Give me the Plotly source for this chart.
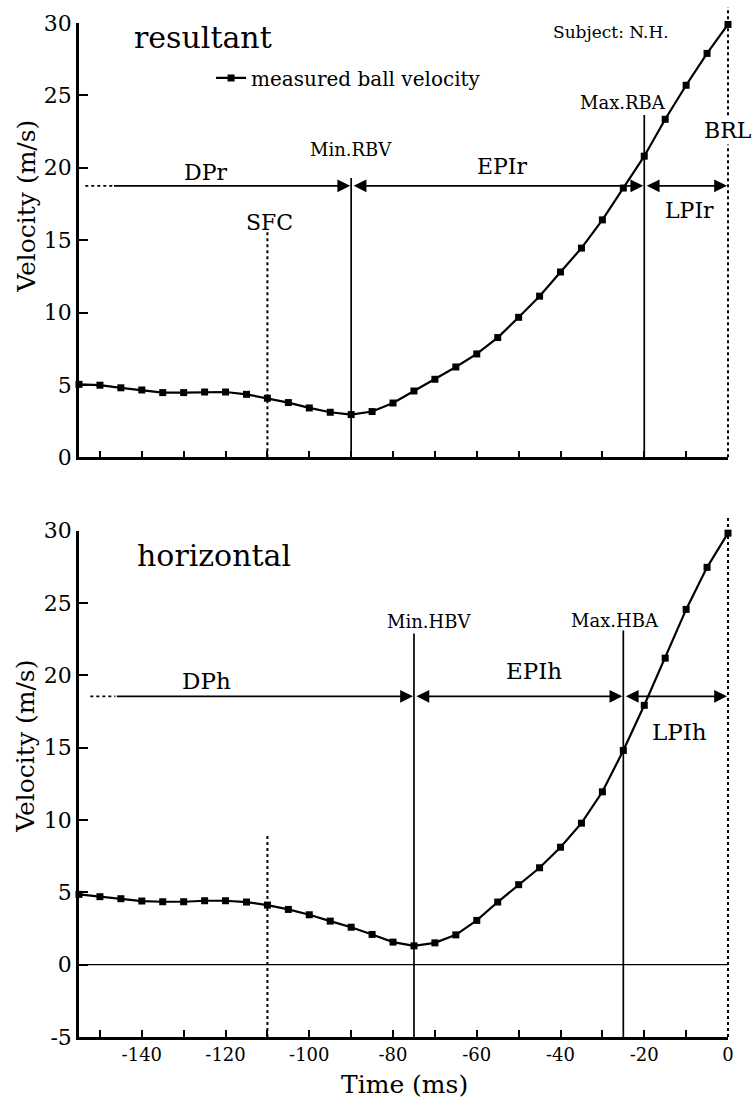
import plotly.graph_objects as go

# ---------------- data ----------------
time_ms = [-155, -150, -145, -140, -135, -130, -125, -120, -115, -110, -105, -100,
           -95, -90, -85, -80, -75, -70, -65, -60, -55, -50, -45, -40, -35, -30,
           -25, -20, -15, -10, -5, 0]
resultant_v = [5.04, 4.98, 4.80, 4.65, 4.47, 4.47, 4.51, 4.51, 4.35, 4.08, 3.78, 3.41,
               3.11, 2.95, 3.16, 3.75, 4.58, 5.39, 6.24, 7.14, 8.27, 9.67, 11.13, 12.80,
               14.45, 16.40, 18.60, 20.80, 23.35, 25.70, 27.90, 29.90]
horizontal_v = [4.86, 4.70, 4.56, 4.40, 4.35, 4.35, 4.42, 4.42, 4.33, 4.12, 3.82, 3.45,
                3.01, 2.59, 2.09, 1.56, 1.30, 1.51, 2.06, 3.06, 4.33, 5.53, 6.70, 8.12,
                9.78, 11.95, 14.81, 17.93, 21.19, 24.56, 27.47, 29.83]

# event times (ms)
t_sfc = -110
t_min_rbv = -90
t_max_rba = -20
t_min_hbv = -75
t_max_hba = -25
t_brl = 0

x_tickvals = [-150, -140, -130, -120, -110, -100, -90, -80, -70, -60, -50, -40, -30, -20, -10, 0]
x_ticktext = ["", "-140", "", "-120", "", "-100", "", "-80", "", "-60", "", "-40", "", "-20", "", "0"]
y_top_ticks = [0, 5, 10, 15, 20, 25, 30]
y_top_text = ["0", "5", "10", "15", "20", "25", "30"]
y_bot_ticks = [-5, 0, 5, 10, 15, 20, 25, 30]
y_bot_text = ["-5", "0", "5", "10", "15", "20", "25", "30"]

FONT = "DejaVu Serif"
BLACK = "black"

fig = go.Figure()

fig.add_trace(go.Scatter(
    x=time_ms, y=resultant_v, xaxis="x", yaxis="y", mode="lines+markers",
    name="measured ball velocity",
    line=dict(color=BLACK, width=2.2),
    marker=dict(symbol="square", size=7, color=BLACK),
    cliponaxis=False, showlegend=True))
fig.add_trace(go.Scatter(
    x=time_ms, y=horizontal_v, xaxis="x2", yaxis="y2", mode="lines+markers",
    name="horizontal",
    line=dict(color=BLACK, width=2.2),
    marker=dict(symbol="square", size=7, color=BLACK),
    cliponaxis=False, showlegend=False))

axis_common = dict(showline=True, linecolor=BLACK, linewidth=2.5, showgrid=False,
                   zeroline=False, ticks="inside", tickcolor=BLACK, tickwidth=2)

fig.update_layout(
    width=754, height=1104,
    margin=dict(l=79, r=26, t=23, b=67),
    paper_bgcolor="white", plot_bgcolor="white",
    font=dict(family=FONT, color=BLACK),
    xaxis=dict(domain=[0, 1], anchor="y", range=[-155, 0], tickvals=x_tickvals,
               showticklabels=False, ticklen=7, **axis_common),
    yaxis=dict(domain=[0.5717, 1], anchor="x", range=[0, 30], tickvals=y_top_ticks,
               ticktext=y_top_text, ticklen=9, tickfont=dict(size=22, family=FONT),
               **axis_common),
    xaxis2=dict(domain=[0, 1], anchor="y2", range=[-155, 0], tickvals=x_tickvals,
                ticktext=x_ticktext, ticklen=7, tickfont=dict(size=18, family=FONT),
                **axis_common),
    yaxis2=dict(domain=[0, 0.4993], anchor="x2", range=[-5, 30], tickvals=y_bot_ticks,
                ticktext=y_bot_text, ticklen=9, tickfont=dict(size=22, family=FONT),
                **axis_common),
    legend=dict(x=0.2035, y=0.9458, xanchor="left", yanchor="middle",
                bgcolor="rgba(0,0,0,0)", font=dict(size=20, family=FONT),
                itemwidth=30),
    showlegend=True,
)

shapes = []
# top panel vertical event lines
shapes.append(dict(type="line", xref="x", yref="y", x0=t_sfc, x1=t_sfc, y0=0, y1=15.6,
                   line=dict(color=BLACK, width=2, dash="dot")))
shapes.append(dict(type="line", xref="x", yref="y", x0=t_min_rbv, x1=t_min_rbv, y0=0, y1=19.3,
                   line=dict(color=BLACK, width=1.7)))
shapes.append(dict(type="line", xref="x", yref="y", x0=t_max_rba, x1=t_max_rba, y0=0, y1=23.65,
                   line=dict(color=BLACK, width=1.7)))
shapes.append(dict(type="line", xref="x domain", yref="y domain", x0=1, x1=1, y0=0, y1=1.037,
                   line=dict(color=BLACK, width=2, dash="dot")))
# DPr dotted lead-in
shapes.append(dict(type="line", xref="x", yref="y", x0=-153.5, x1=-147, y0=18.75, y1=18.75,
                   line=dict(color=BLACK, width=1.7, dash="dot")))

# bottom panel lines
shapes.append(dict(type="line", xref="x2", yref="y2", x0=t_sfc, x1=t_sfc, y0=-5, y1=9.0,
                   line=dict(color=BLACK, width=2, dash="dot")))
shapes.append(dict(type="line", xref="x2", yref="y2", x0=t_min_hbv, x1=t_min_hbv, y0=-5, y1=22.9,
                   line=dict(color=BLACK, width=1.7)))
shapes.append(dict(type="line", xref="x2", yref="y2", x0=t_max_hba, x1=t_max_hba, y0=-5, y1=23.1,
                   line=dict(color=BLACK, width=1.7)))
shapes.append(dict(type="line", xref="x2 domain", yref="y2 domain", x0=1, x1=1, y0=0, y1=1.0257,
                   line=dict(color=BLACK, width=2, dash="dot")))
shapes.append(dict(type="line", xref="x2", yref="y2", x0=-155, x1=0, y0=0, y1=0,
                   line=dict(color=BLACK, width=1.4)))
shapes.append(dict(type="line", xref="x2", yref="y2", x0=-152.3, x1=-146.3, y0=18.55, y1=18.55,
                   line=dict(color=BLACK, width=1.7, dash="dot")))
fig.update_layout(shapes=shapes)

ann = []


def label(text, x, y, size, xref="x", yref="y", bg=None, **kw):
    d = dict(text=text, x=x, y=y, xref=xref, yref=yref, showarrow=False,
             font=dict(size=size, family=FONT, color=BLACK), xanchor="center", yanchor="middle")
    if bg:
        d["bgcolor"] = bg
    d.update(kw)
    ann.append(d)


def arrow(x_from, x_to, y, xref, yref, double=False):
    d = dict(text="", x=x_to, y=y, ax=x_from, ay=y, xref=xref, yref=yref,
             axref=xref, ayref=yref, showarrow=True, arrowhead=2, arrowsize=1.6,
             arrowwidth=1.6, arrowcolor=BLACK, standoff=1)
    if double:
        d.update(arrowside="end+start", startarrowhead=2, startarrowsize=1.6, startstandoff=1)
    ann.append(d)


# top panel texts
label("resultant", -125.3, 28.99, 30)
label("Subject: N.H.", -27.9, 29.36, 17)
label("Min.RBV", t_min_rbv, 21.25, 18)
label("DPr", -124.9, 19.65, 22)
label("SFC", -109.5, 16.19, 22)
label("EPIr", -53.9, 20.06, 22)
label("Max.RBA", -25.1, 24.5, 18)
label("BRL", t_brl, 22.6, 22, bg="white")
label("LPIr", -9.3, 17.02, 22)
arrow(-147, t_min_rbv, 18.75, "x", "y")
arrow(t_min_rbv, t_max_rba, 18.75, "x", "y", double=True)
arrow(t_max_rba, t_brl, 18.75, "x", "y", double=True)

# bottom panel texts
label("horizontal", -122.7, 28.32, 30, xref="x2", yref="y2")
label("DPh", -124.6, 19.63, 23, xref="x2", yref="y2")
label("Min.HBV", -71.4, 23.75, 18, xref="x2", yref="y2")
label("EPIh", -46.3, 20.3, 23, xref="x2", yref="y2")
label("Max.HBA", -27.0, 23.8, 18, xref="x2", yref="y2")
label("LPIh", -11.5, 16.08, 23, xref="x2", yref="y2")
arrow(-146.3, t_min_hbv, 18.55, "x2", "y2")
arrow(t_min_hbv, t_max_hba, 18.55, "x2", "y2", double=True)
arrow(t_max_hba, t_brl, 18.55, "x2", "y2", double=True)

# axis titles
label("Velocity (m/s)", -0.082, 0.8195, 25, xref="paper", yref="paper", textangle=-90)
label("Velocity (m/s)", -0.082, 0.287, 25, xref="paper", yref="paper", textangle=-90)
label("Time (ms)", 0.502, -0.0473, 25, xref="paper", yref="paper")

fig.update_layout(annotations=ann)

fig.write_html("out.html")
